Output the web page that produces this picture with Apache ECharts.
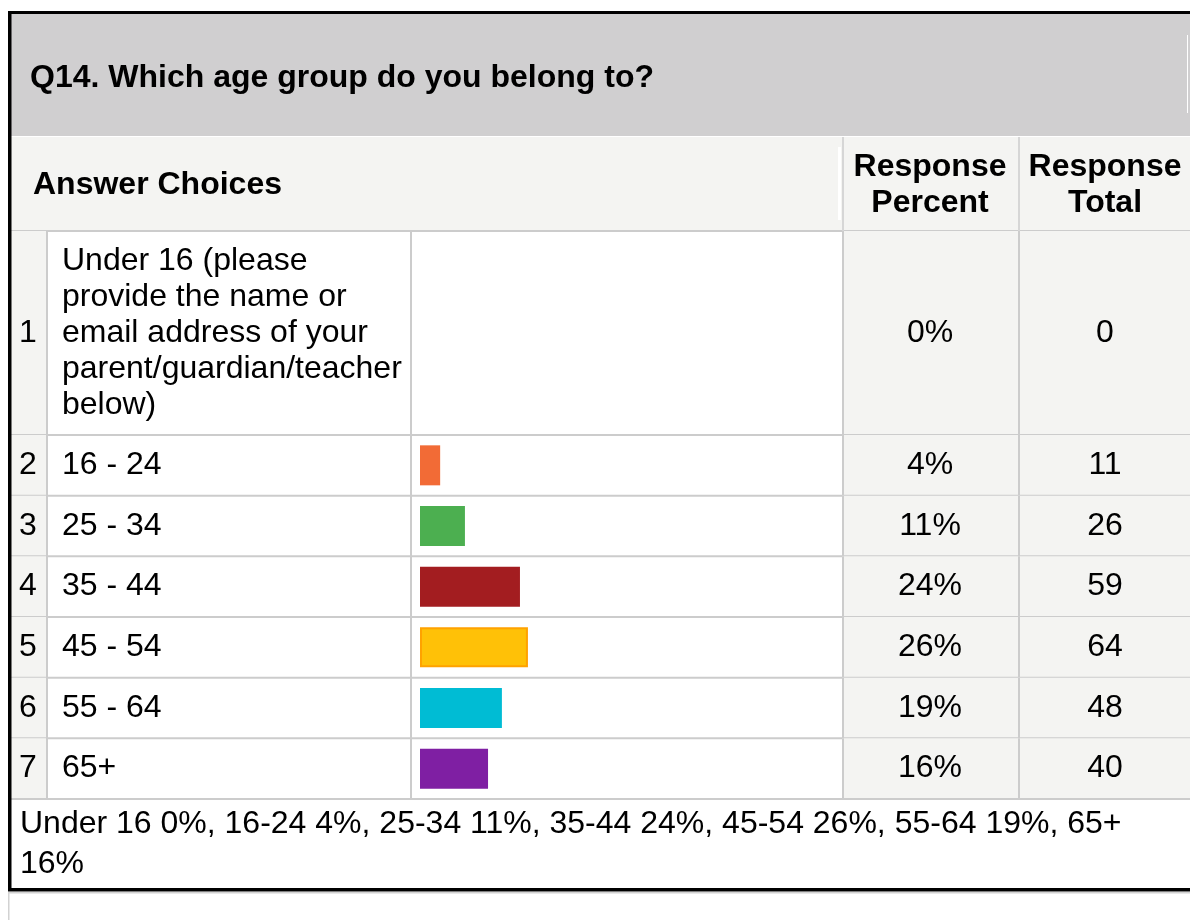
<!DOCTYPE html>
<html><head><meta charset="utf-8">
<script src="https://cdn.jsdelivr.net/npm/echarts@6/dist/echarts.min.js"></script>
<style>html,body{margin:0;padding:0;background:#fff}#c{width:1190px;height:920px}</style>
</head><body><div id="c"></div>
<script>
// ---- data ----
const titleText = 'Q14. Which age group do you belong to?';
const headerLabels = ['Answer Choices', 'Response\nPercent', 'Response\nTotal'];
const rowNumbers = ['1', '2', '3', '4', '5', '6', '7'];
const categories = ['Under 16 (please\nprovide the name or\nemail address of your\nparent/guardian/teacher\nbelow)',
  '16 - 24', '25 - 34', '35 - 44', '45 - 54', '55 - 64', '65+'];
const percentLabels = ['0%', '4%', '11%', '24%', '26%', '19%', '16%'];
const totals = [0, 11, 26, 59, 64, 48, 40];
const barPercent = [0, 4.8, 10.7, 23.8, 25.7, 19.5, 16.2];
const barColors = ['#f26b36', '#f26b36', '#4caf50', '#a31d20', '#ffc107', '#00bcd4', '#7f1fa3'];
const footerText = 'Under 16 0%, 16-24 4%, 25-34 11%, 35-44 24%, 45-54 26%, 55-64 19%, 65+\n16%';

// ---- layout ----
const FONT = '"Liberation Sans", Arial, sans-serif';
const FS = 32;
const LINE = '#cccccc';
const SHADE = '#f4f4f2';
const X0 = 11, XR = 1190;
const colNumEnd = 46, colAnsEnd = 410, colBarEnd = 842, colPctEnd = 1018;

const chart = echarts.init(document.getElementById('c'), null, {renderer: 'canvas'});

function rowRender(offset) {
  return function (params, api) {
    const i = params.dataIndex;
    const r = offset + i;
    const c = api.coord([0, i]);
    const h = api.size([0, 1])[1];
    const top = c[1] - h / 2, cy = c[1];
    const ch = [];
    ch.push({type: 'rect', shape: {x: X0, y: top, width: colNumEnd - X0, height: h}, style: {fill: SHADE}});
    ch.push({type: 'rect', shape: {x: colBarEnd, y: top, width: XR - colBarEnd, height: h}, style: {fill: SHADE}});
    [colNumEnd, colAnsEnd, colBarEnd, colPctEnd].forEach(function (x) {
      ch.push({type: 'rect', shape: {x: x, y: top, width: 2, height: h}, style: {fill: LINE}});
    });
    ch.push({type: 'rect', shape: {x: X0, y: top + h - 1, width: XR - X0, height: 2}, style: {fill: LINE}});
    ch.push({type: 'text', style: {text: rowNumbers[r], x: 19, y: cy, align: 'left', verticalAlign: 'middle', font: FS + 'px ' + FONT, fill: '#000'}});
    ch.push({type: 'text', style: {text: categories[r], x: 62, y: cy, align: 'left', verticalAlign: 'middle', font: FS + 'px ' + FONT, fill: '#000', lineHeight: 36}});
    ch.push({type: 'text', style: {text: percentLabels[r], x: 930, y: cy, align: 'center', verticalAlign: 'middle', font: FS + 'px ' + FONT, fill: '#000'}});
    ch.push({type: 'text', style: {text: String(totals[r]), x: 1105, y: cy, align: 'center', verticalAlign: 'middle', font: FS + 'px ' + FONT, fill: '#000'}});
    return {type: 'group', children: ch};
  };
}

function barData(from, to) {
  const out = [];
  for (let k = from; k < to; k++) {
    const it = {value: barPercent[k], itemStyle: {color: barColors[k]}};
    if (k === 4) { it.itemStyle.borderColor = '#ffa200'; it.itemStyle.borderWidth = 2; }
    out.push(it);
  }
  return out;
}

const option = {
  animation: false,
  backgroundColor: '#fff',
  grid: [
    {left: 420, width: 420, top: 231, height: 204},
    {left: 420, width: 420, top: 435, height: 364}
  ],
  xAxis: [
    {gridIndex: 0, type: 'value', min: 0, max: 100, show: false},
    {gridIndex: 1, type: 'value', min: 0, max: 100, show: false}
  ],
  yAxis: [
    {gridIndex: 0, type: 'category', data: categories.slice(0, 1), inverse: true, show: false},
    {gridIndex: 1, type: 'category', data: categories.slice(1), inverse: true, show: false}
  ],
  series: [
    {type: 'custom', xAxisIndex: 0, yAxisIndex: 0, z: 1, renderItem: rowRender(0), data: categories.slice(0, 1).map(function (_, i) { return [0, i]; })},
    {type: 'custom', xAxisIndex: 1, yAxisIndex: 1, z: 1, renderItem: rowRender(1), data: categories.slice(1).map(function (_, i) { return [0, i]; })},
    {type: 'bar', xAxisIndex: 0, yAxisIndex: 0, z: 3, barWidth: 40, data: barData(0, 1)},
    {type: 'bar', xAxisIndex: 1, yAxisIndex: 1, z: 3, barWidth: 40, data: barData(1, 7)}
  ],
  graphic: [
    // title band
    {type: 'rect', z: 0, shape: {x: X0, y: 14, width: XR - X0, height: 122}, style: {fill: '#d0cfd0'}},
    {type: 'rect', z: 0, shape: {x: 8, y: 11, width: XR - 8, height: 3}, style: {fill: '#000'}},
    {type: 'rect', z: 0, shape: {x: 1187, y: 35, width: 1, height: 78}, style: {fill: '#ffffff'}},
    {type: 'text', z: 5, style: {text: titleText, x: 30, y: 78, align: 'left', verticalAlign: 'middle', font: 'bold ' + FS + 'px ' + FONT, fill: '#000'}},
    // header
    {type: 'rect', z: 0, shape: {x: X0, y: 137, width: XR - X0, height: 94}, style: {fill: SHADE}},
    {type: 'rect', z: 0, shape: {x: X0, y: 230, width: XR - X0, height: 2}, style: {fill: LINE}},
    {type: 'rect', z: 0, shape: {x: colBarEnd, y: 137, width: 2, height: 94}, style: {fill: '#d6d6d6'}},
    {type: 'rect', z: 0, shape: {x: colPctEnd, y: 137, width: 2, height: 94}, style: {fill: '#d6d6d6'}},
    {type: 'rect', z: 0, shape: {x: 838, y: 147, width: 3, height: 73}, style: {fill: '#ffffff'}},
    {type: 'text', z: 5, style: {text: headerLabels[0], x: 33, y: 185, align: 'left', verticalAlign: 'middle', font: 'bold ' + FS + 'px ' + FONT, fill: '#000'}},
    {type: 'text', z: 5, style: {text: headerLabels[1], x: 930, y: 185, align: 'center', verticalAlign: 'middle', font: 'bold ' + FS + 'px ' + FONT, fill: '#000', lineHeight: 36}},
    {type: 'text', z: 5, style: {text: headerLabels[2], x: 1105, y: 185, align: 'center', verticalAlign: 'middle', font: 'bold ' + FS + 'px ' + FONT, fill: '#000', lineHeight: 36}},
    // footer
    {type: 'text', z: 5, style: {text: footerText, x: 20, y: 844, align: 'left', verticalAlign: 'middle', font: FS + 'px ' + FONT, fill: '#000', lineHeight: 40}},
    {type: 'rect', z: 6, shape: {x: 8, y: 888, width: XR - 8, height: 3.5}, style: {fill: '#000'}},
    {type: 'rect', z: 6, shape: {x: 8, y: 892, width: XR - 8, height: 1.5}, style: {fill: '#d2d2d2'}},
    {type: 'rect', z: 6, shape: {x: 8, y: 892, width: 1.5, height: 28}, style: {fill: '#d2d2d2'}},
    // left border
    {type: 'rect', z: 6, shape: {x: 8, y: 11, width: 3.5, height: 880}, style: {fill: '#000'}}
  ]
};
chart.setOption(option);
</script>
</body></html>
